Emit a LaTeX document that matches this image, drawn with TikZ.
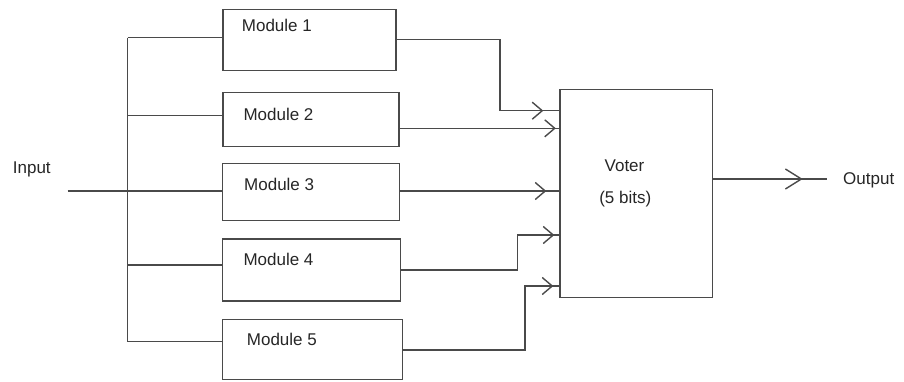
\documentclass[tikz,border=0pt]{standalone}
\usepackage{fontspec}
\setmainfont{Liberation Sans}
\usetikzlibrary{arrows.meta,decorations.markings}

\definecolor{wire}{HTML}{4A4A4A}

\tikzset{
  box/.style={draw=wire, line width=1.5pt, rectangle, inner sep=0pt},
  wireline/.style={draw=wire, line width=1.5pt},
  lbl/.style={font=\fontsize{17}{19}\selectfont, text=black!85, inner sep=0pt},
  barbat/.style={postaction={decorate},
    decoration={markings, mark=at position #1 with
      {\arrow{Straight Barb[length=10pt,width=17pt,line width=1.4pt]}}}},
  outbarb/.style={postaction={decorate},
    decoration={markings, mark=at position #1 with
      {\arrow{Straight Barb[length=16pt,width=20pt,line width=1.4pt]}}}}
}

\begin{document}
\begin{tikzpicture}[x=1pt, y=-1pt]
  \useasboundingbox (0,0) rectangle (904,381);

  % module blocks
  \node[box, minimum width=173.3pt, minimum height=61.4pt] (m1) at (309.4,40.0) {};
  \node[box, minimum width=176.3pt, minimum height=54.0pt] (m2) at (310.9,119.7) {};
  \node[box, minimum width=176.6pt, minimum height=57.0pt] (m3) at (311.0,191.8) {};
  \node[box, minimum width=178.0pt, minimum height=61.7pt] (m4) at (311.7,269.9) {};
  \node[box, minimum width=180.0pt, minimum height=60.0pt] (m5) at (312.7,349.3) {};

  % voter block
  \node[box, minimum width=152.3pt, minimum height=208pt] (voter) at (636.2,193.3) {};

  % module labels
  \node[lbl, anchor=base west] (t1) at (241.7,31.7) {Module 1};
  \node[lbl, anchor=base west] (t2) at (243.3,120.0) {Module 2};
  \node[lbl, anchor=base west] (t3) at (244.0,190.0) {Module 3};
  \node[lbl, anchor=base west] (t4) at (243.3,265.0) {Module 4};
  \node[lbl, anchor=base west] (t5) at (246.7,345.0) {Module 5};

  \node[lbl, anchor=base] (tv) at (624.5,171.7) {Voter};
  \node[lbl, anchor=base] (tb) at (625.3,203.0) {(5 bits)};
  \node[lbl, anchor=base west] (tin) at (12.7,173.5) {Input};
  \node[lbl, anchor=base west] (tout) at (843.0,184.0) {Output};

  % input feed and distribution bus
  \coordinate (in) at (67.7,191.0);
  \coordinate (b1) at (127.7,37.7);
  \coordinate (b2) at (127.7,115.7);
  \coordinate (b4) at (127.7,265.0);
  \coordinate (b5) at (127.7,341.7);
  \coordinate (out) at (826.7,179.0);

  \draw[wireline] (in) -- (in -| m3.west);
  \draw[wireline] (b1) -- (b5);
  \draw[wireline] (b1) -- (b1 -| m1.west);
  \draw[wireline] (b2) -- (b2 -| m2.west);
  \draw[wireline] (b4) -- (b4 -| m4.west);
  \draw[wireline] (b5) -- (b5 -| m5.west);

  % module outputs into the voter
  \draw[wireline, barbat=-16pt] (m1.east |- 0,39.3) -- (500,39.3) |- (voter.west |- 0,110.7);
  \draw[wireline, barbat=-3.5pt] (m2.east |- 0,128.3) -- (voter.west |- 0,128.3);
  \draw[wireline, barbat=-13pt] (m3.east |- 0,191.0) -- (voter.west |- 0,191.0);
  \draw[wireline, barbat=-5pt] (m4.east |- 0,270.0) -- (517.7,270.0) |- (voter.west |- 0,235.0);
  \draw[wireline, barbat=-6pt] (m5.east |- 0,350.0) -- (525.0,350.0) |- (voter.west |- 0,286.0);

  % voter output
  \draw[wireline, outbarb=-24pt] (voter.east |- out) -- (out);
\end{tikzpicture}
\end{document}
